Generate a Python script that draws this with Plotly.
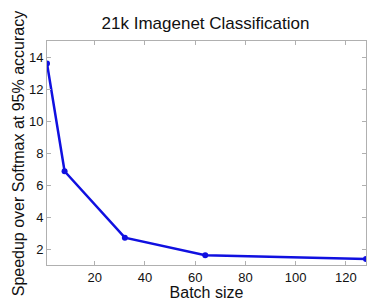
import plotly.graph_objects as go

batch_size = [1, 8, 32, 64, 128]
speedup = [13.6, 6.86, 2.71, 1.61, 1.38]
x_ticks = [20, 40, 60, 80, 100, 120]
y_ticks = [2, 4, 6, 8, 10, 12, 14]

fig = go.Figure()
fig.add_trace(go.Scatter(
    x=batch_size, y=speedup, mode="lines+markers",
    line=dict(color="#1010e0", width=2.5),
    marker=dict(color="#1010e0", size=6),
    cliponaxis=True,
))

font = "Liberation Sans, Arial, Helvetica, sans-serif"
axis_common = dict(
    showgrid=False, zeroline=False, showline=True, linecolor="#b0b0b0", linewidth=1,
    mirror="ticks", ticks="inside", ticklen=4, tickcolor="#b0b0b0",
    tickfont=dict(family=font, size=13, color="#111"),
)
fig.update_xaxes(range=[1, 128], tickvals=x_ticks, **axis_common,
                 title=dict(text="Batch size", font=dict(family=font, size=16, color="#111"), standoff=0))
fig.update_yaxes(range=[1, 15], tickvals=y_ticks, **axis_common)

fig.add_annotation(
    text="Speedup over Softmax at 95% accuracy", textangle=-90,
    xref="paper", yref="paper", x=-0.09, y=0.5, xanchor="center", yanchor="middle",
    showarrow=False, font=dict(family=font, size=16, color="#111"),
)

fig.update_layout(
    width=367, height=301,
    margin=dict(l=47, r=1, t=41, b=36),
    paper_bgcolor="white", plot_bgcolor="white",
    showlegend=False,
    title=dict(text="21k Imagenet Classification", x=0.56, xanchor="center", y=0.925, yanchor="middle",
               font=dict(family=font, size=17, color="#111")),
)

fig.write_html("out.html", config={"displayModeBar": False},
               post_script="document.body.style.margin='0';document.body.style.overflow='hidden';")
